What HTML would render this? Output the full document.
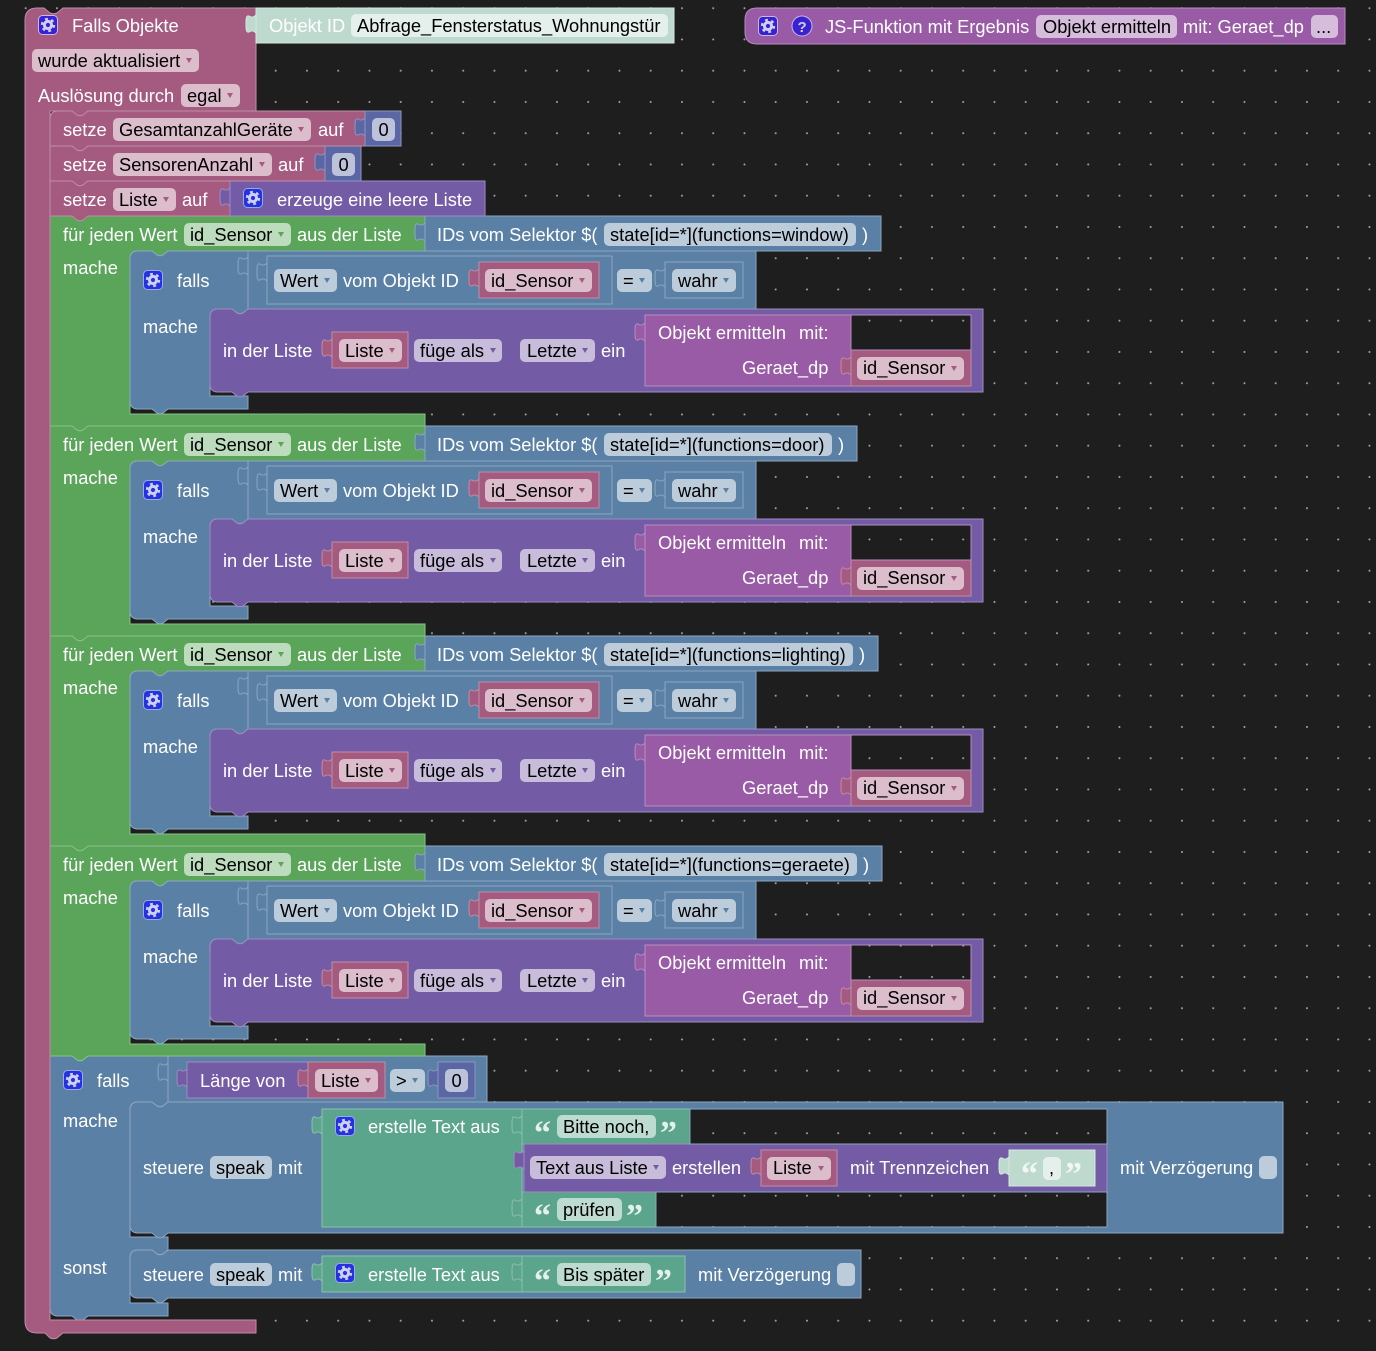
<!DOCTYPE html>
<html><head><meta charset="utf-8"><style>
html,body{margin:0;padding:0;background:#1e1e1e}
svg{display:block}
rect{shape-rendering:crispEdges}
rect[rx]{shape-rendering:auto}
text{font:18.3px "Liberation Sans",sans-serif;fill:#fff;white-space:pre}
text.k{fill:#000}
text.q{font:bold 34px "Liberation Serif",serif}
.pk{fill:#a55b80;stroke:#c08ca6}.gr{fill:#5ba55b;stroke:#8cc08c}.bl{fill:#5b80a5;stroke:#8ca6c0}
.pu{fill:#745ba5;stroke:#9d8cc0}.nu{fill:#5b67a5;stroke:#8c95c0}.fn{fill:#995ba5;stroke:#b78cc0}
.te{fill:#5ba58c;stroke:#8cc0ae}.lt{fill:#bedacf;stroke:#d5e8e0}
.fpk{fill:#dbbdcc}.fgr{fill:#bddbbd}.fbl{fill:#bdccdb}.fpu{fill:#c7bddb}.fnu{fill:#bdc2db}.ffn{fill:#d6bddb}.fte{fill:#bddbd1}.flt{fill:#e5f0ec}
.apk{fill:#a55b80}.agr{fill:#5ba55b}.abl{fill:#5b80a5}.apu{fill:#745ba5}
.gb{fill:#2433e0;stroke:#9aa8e8}.gp{fill:#3b22d0;stroke:#c9b8e8}
.hole{fill:url(#bg);stroke-width:1}
</style></head><body>
<svg xmlns="http://www.w3.org/2000/svg" width="1376" height="1351" viewBox="0 0 1376 1351">
<defs>
<pattern id="bg" patternUnits="userSpaceOnUse" x="25.7" y="8.2" width="31.25" height="31.25"><rect x="-1" y="-1" width="33" height="33" fill="#1e1e1e"/><circle cx="0" cy="0" r="1" fill="#a8a8a8"/><circle cx="31.25" cy="0" r="1" fill="#a8a8a8"/><circle cx="0" cy="31.25" r="1" fill="#a8a8a8"/><circle cx="31.25" cy="31.25" r="1" fill="#a8a8a8"/></pattern>
<path id="t" d="M0 0C-2 2-4 3-7 1-10 0-10 4-10 9-10 14-10 18-7 17-4 15-2 16 0 18Z"/>
<path id="a" d="M0 0h6l-3 5z" stroke="none"/>
<g id="gear"><rect x=".5" y=".5" width="19" height="19" rx="4"/><circle cx="10" cy="10" r="3.6" fill="none" stroke="#d0d0f4" stroke-width="3"/><circle cx="10" cy="10" r="6" fill="none" stroke="#d0d0f4" stroke-width="2.4" stroke-dasharray="2.8 3.48"/></g>
<g id="loop">
<path class="gr" d="M50 216H425V251H168l-5 4q-3 1.5-6 0l-5-4H138Q130 251 130 259V414H425V426H88l-5 4q-3 1.5-6 0l-5-4H50Z"/>
<rect class="fgr" x="184" y="223" width="107" height="23" rx="5"/><use href="#a" class="agr" x="278" y="232"/>
<path class="bl" d="M138 251H152l5 4q3 1.5 6 0l5-4H756V309H248l-5 4q-3 1.5-6 0l-5-4H218Q210 309 210 317V396H248V409H168l-5 4q-3 1.5-6 0l-5-4H138Q130 409 130 401V259Q130 251 138 251Z"/>
<use href="#gear" class="gb" x="143" y="270"/>
<path d="M248 251V309" fill="none" stroke="#8ca6c0"/>
<use href="#t" class="bl" x="248" y="257"/>
<rect class="bl" x="267" y="256" width="345" height="48"/><use href="#t" class="bl" x="267" y="263"/>
<rect class="fbl" x="274" y="269" width="63" height="23" rx="5"/><use href="#a" class="abl" x="324" y="278"/>
<rect class="pk" x="479" y="262" width="120" height="36"/><use href="#t" class="pk" x="479" y="269"/>
<rect class="fpk" x="485" y="269" width="107" height="23" rx="5"/><use href="#a" class="apk" x="579" y="278"/>
<rect class="fbl" x="617" y="269" width="35" height="23" rx="5"/><use href="#a" class="abl" x="639" y="278"/>
<rect class="bl" x="665" y="262" width="78" height="36"/><use href="#t" class="bl" x="665" y="269"/>
<rect class="fbl" x="672" y="269" width="64" height="23" rx="5"/><use href="#a" class="abl" x="723" y="278"/>
<path class="pu" d="M210 317Q210 309 218 309H232l5 4q3 1.5 6 0l5-4H983V392H248l-5 4q-3 1.5-6 0l-5-4H218Q210 392 210 384Z"/>
<rect class="pk" x="332" y="332" width="76" height="36"/><use href="#t" class="pk" x="332" y="339"/>
<rect class="fpk" x="339" y="339" width="63" height="23" rx="5"/><use href="#a" class="apk" x="389" y="348"/>
<rect class="fpu" x="414" y="339" width="88" height="23" rx="5"/><use href="#a" class="apu" x="490" y="348"/>
<rect class="fpu" x="520" y="339" width="75" height="23" rx="5"/><use href="#a" class="apu" x="582" y="348"/>
<rect class="fn" x="645" y="315" width="326" height="71"/><use href="#t" class="fn" x="645" y="323"/>
<rect class="pk" x="851" y="350" width="120" height="36"/><use href="#t" class="pk" x="851" y="357"/>
<rect class="fpk" x="857" y="357" width="107" height="23" rx="5"/><use href="#a" class="apk" x="951" y="366"/>
</g>
</defs>
<rect width="1376" height="1351" fill="url(#bg)"/>
<g>

<!-- final falls -->
<path class="bl" d="M50 1056H487V1102H168l-5 4q-3 1.5-6 0l-5-4H138Q130 1102 130 1110V1237H168V1250l-5 4q-3 1.5-6 0l-5-4H138Q130 1250 130 1258V1303H168V1316H88l-5 4q-3 1.5-6 0l-5-4H58Q50 1316 50 1308Z"/>
<path d="M168 1056V1102" fill="none" stroke="#8ca6c0"/>
<use href="#t" class="bl" x="168" y="1063"/>
<use href="#gear" class="gb" x="63" y="1070"/>
<rect class="pu" x="187" y="1062" width="121" height="36"/><use href="#t" class="pu" x="187" y="1069"/>
<rect class="pk" x="308" y="1062" width="77" height="36"/><use href="#t" class="pk" x="308" y="1069"/>
<rect class="fpk" x="315" y="1069" width="63" height="23" rx="5"/><use href="#a" class="apk" x="365" y="1078"/>
<rect class="fbl" x="390" y="1069" width="35" height="23" rx="5"/><use href="#a" class="abl" x="412" y="1078"/>
<rect class="nu" x="438" y="1062" width="37" height="36"/><use href="#t" class="nu" x="438" y="1069"/>
<rect class="fnu" x="445" y="1069" width="23" height="23" rx="5"/>
<text x="97" y="1087">falls</text><text x="200" y="1087">Länge von</text><text class="k" x="321" y="1087">Liste</text><text class="k" x="396" y="1087">&gt;</text><text class="k" x="451.5" y="1087">0</text>
<text x="63" y="1127">mache</text><text x="63" y="1274">sonst</text>

<path class="bl" d="M130 1110Q130 1102 138 1102H152l5 4q3 1.5 6 0l5-4H1283V1233H168l-5 4q-3 1.5-6 0l-5-4H138Q130 1233 130 1225Z"/>
<rect class="fbl" x="210" y="1156" width="62" height="23" rx="5"/>
<text x="143" y="1174">steuere</text><text class="k" x="216" y="1174">speak</text><text x="278" y="1174">mit</text>
<rect class="te" x="322" y="1109" width="200" height="118"/><use href="#t" class="te" x="322" y="1116"/>
<use href="#gear" class="gb" x="335" y="1116"/>
<text x="368" y="1133">erstelle Text aus</text>
<rect class="te" x="522" y="1109" width="168" height="35"/><use href="#t" class="te" x="522" y="1116"/>
<rect class="fte" x="557" y="1115" width="99" height="23" rx="5"/>
<text class="q" x="534" y="1144" style="fill:#e4f0eb">“</text><text class="k" x="563" y="1133">Bitte noch,</text><text class="q" x="660" y="1144" style="fill:#e4f0eb">”</text>
<rect class="te" x="522" y="1192" width="134" height="35"/><use href="#t" class="te" x="522" y="1199"/>
<rect class="fte" x="557" y="1198" width="65" height="23" rx="5"/>
<text class="q" x="534" y="1227" style="fill:#e4f0eb">“</text><text class="k" x="563" y="1216">prüfen</text><text class="q" x="626" y="1227" style="fill:#e4f0eb">”</text>
<rect class="pu" x="524" y="1144" width="583" height="48"/><use href="#t" class="pu" x="524" y="1151"/>
<rect class="fpu" x="530" y="1156" width="136" height="23" rx="5"/><use href="#a" class="apu" x="653" y="1165"/>
<text class="k" x="536" y="1174">Text aus Liste</text><text x="672" y="1174">erstellen</text>
<rect class="pk" x="761" y="1150" width="76" height="36"/><use href="#t" class="pk" x="761" y="1157"/>
<rect class="fpk" x="767" y="1157" width="64" height="23" rx="5"/><use href="#a" class="apk" x="818" y="1166"/>
<text class="k" x="773" y="1174">Liste</text><text x="850" y="1174">mit Trennzeichen</text>
<rect class="lt" x="1009" y="1150" width="86" height="36"/><use href="#t" class="lt" x="1009" y="1157"/>
<rect class="flt" x="1043" y="1157" width="18" height="23" rx="5"/>
<text class="q" x="1021" y="1185" style="fill:#f0f7f4">“</text><text class="k" x="1049" y="1174">,</text><text class="q" x="1065" y="1185" style="fill:#f0f7f4">”</text>
<text x="1120" y="1174">mit Verzögerung</text><rect class="fbl" x="1259" y="1156" width="18" height="23" rx="5"/>

<path class="bl" d="M130 1258Q130 1250 138 1250H152l5 4q3 1.5 6 0l5-4H861V1298H168l-5 4q-3 1.5-6 0l-5-4H138Q130 1298 130 1290Z"/>
<rect class="fbl" x="210" y="1263" width="62" height="23" rx="5"/>
<text x="143" y="1281">steuere</text><text class="k" x="216" y="1281">speak</text><text x="278" y="1281">mit</text>
<rect class="te" x="322" y="1256" width="363" height="36"/><use href="#t" class="te" x="322" y="1263"/>
<use href="#gear" class="gb" x="335" y="1263"/>
<text x="368" y="1281">erstelle Text aus</text>
<path d="M522 1256V1292" stroke="#8cc0ae" fill="none"/><use href="#t" class="te" x="522" y="1263"/>
<rect class="fte" x="557" y="1263" width="94" height="23" rx="5"/>
<text class="q" x="534" y="1292" style="fill:#e4f0eb">“</text><text class="k" x="563" y="1281">Bis später</text><text class="q" x="655" y="1292" style="fill:#e4f0eb">”</text>
<text x="698" y="1281">mit Verzögerung</text><rect class="fbl" x="837" y="1263" width="18" height="23" rx="5"/>

<!-- loop 4 -->
<g transform="translate(0 630)"><use href="#loop"/>
<rect class="bl" x="425" y="216" width="457" height="35"/><use href="#t" class="bl" x="425" y="223"/>
<rect class="fbl" x="604" y="223" width="253" height="23" rx="5"/>
<text x="63" y="241">für jeden Wert</text><text class="k" x="190" y="241">id_Sensor</text><text x="297" y="241">aus der Liste</text><text x="437" y="241">IDs vom Selektor $(</text><text class="k" x="610" y="241">state[id=*](functions=geraete)</text><text x="863" y="241">)</text>
<text x="63" y="274">mache</text><text x="177" y="287">falls</text><text class="k" x="280" y="287">Wert</text><text x="343" y="287">vom Objekt ID</text><text class="k" x="491" y="287">id_Sensor</text><text class="k" x="623" y="287">=</text><text class="k" x="678" y="287">wahr</text>
<text x="143" y="333">mache</text><text x="223" y="357">in der Liste</text><text class="k" x="345" y="357">Liste</text><text class="k" x="420" y="357">füge als</text><text class="k" x="527" y="357">Letzte</text><text x="601" y="357">ein</text>
<text x="658" y="339">Objekt ermitteln</text><text x="799" y="339">mit:</text><text x="742" y="374">Geraet_dp</text><text class="k" x="863" y="374">id_Sensor</text></g>

<!-- loop 3 -->
<g transform="translate(0 420)"><use href="#loop"/>
<rect class="bl" x="425" y="216" width="453" height="35"/><use href="#t" class="bl" x="425" y="223"/>
<rect class="fbl" x="604" y="223" width="249" height="23" rx="5"/>
<text x="63" y="241">für jeden Wert</text><text class="k" x="190" y="241">id_Sensor</text><text x="297" y="241">aus der Liste</text><text x="437" y="241">IDs vom Selektor $(</text><text class="k" x="610" y="241">state[id=*](functions=lighting)</text><text x="859" y="241">)</text>
<text x="63" y="274">mache</text><text x="177" y="287">falls</text><text class="k" x="280" y="287">Wert</text><text x="343" y="287">vom Objekt ID</text><text class="k" x="491" y="287">id_Sensor</text><text class="k" x="623" y="287">=</text><text class="k" x="678" y="287">wahr</text>
<text x="143" y="333">mache</text><text x="223" y="357">in der Liste</text><text class="k" x="345" y="357">Liste</text><text class="k" x="420" y="357">füge als</text><text class="k" x="527" y="357">Letzte</text><text x="601" y="357">ein</text>
<text x="658" y="339">Objekt ermitteln</text><text x="799" y="339">mit:</text><text x="742" y="374">Geraet_dp</text><text class="k" x="863" y="374">id_Sensor</text></g>

<!-- loop 2 -->
<g transform="translate(0 210)"><use href="#loop"/>
<rect class="bl" x="425" y="216" width="432" height="35"/><use href="#t" class="bl" x="425" y="223"/>
<rect class="fbl" x="604" y="223" width="228" height="23" rx="5"/>
<text x="63" y="241">für jeden Wert</text><text class="k" x="190" y="241">id_Sensor</text><text x="297" y="241">aus der Liste</text><text x="437" y="241">IDs vom Selektor $(</text><text class="k" x="610" y="241">state[id=*](functions=door)</text><text x="838" y="241">)</text>
<text x="63" y="274">mache</text><text x="177" y="287">falls</text><text class="k" x="280" y="287">Wert</text><text x="343" y="287">vom Objekt ID</text><text class="k" x="491" y="287">id_Sensor</text><text class="k" x="623" y="287">=</text><text class="k" x="678" y="287">wahr</text>
<text x="143" y="333">mache</text><text x="223" y="357">in der Liste</text><text class="k" x="345" y="357">Liste</text><text class="k" x="420" y="357">füge als</text><text class="k" x="527" y="357">Letzte</text><text x="601" y="357">ein</text>
<text x="658" y="339">Objekt ermitteln</text><text x="799" y="339">mit:</text><text x="742" y="374">Geraet_dp</text><text class="k" x="863" y="374">id_Sensor</text></g>

<!-- loop 1 -->
<g><use href="#loop"/>
<rect class="bl" x="425" y="216" width="456" height="35"/><use href="#t" class="bl" x="425" y="223"/>
<rect class="fbl" x="604" y="223" width="252" height="23" rx="5"/>
<text x="63" y="241">für jeden Wert</text><text class="k" x="190" y="241">id_Sensor</text><text x="297" y="241">aus der Liste</text><text x="437" y="241">IDs vom Selektor $(</text><text class="k" x="610" y="241">state[id=*](functions=window)</text><text x="862" y="241">)</text>
<text x="63" y="274">mache</text><text x="177" y="287">falls</text><text class="k" x="280" y="287">Wert</text><text x="343" y="287">vom Objekt ID</text><text class="k" x="491" y="287">id_Sensor</text><text class="k" x="623" y="287">=</text><text class="k" x="678" y="287">wahr</text>
<text x="143" y="333">mache</text><text x="223" y="357">in der Liste</text><text class="k" x="345" y="357">Liste</text><text class="k" x="420" y="357">füge als</text><text class="k" x="527" y="357">Letzte</text><text x="601" y="357">ein</text>
<text x="658" y="339">Objekt ermitteln</text><text x="799" y="339">mit:</text><text x="742" y="374">Geraet_dp</text><text class="k" x="863" y="374">id_Sensor</text></g>

<!-- setze rows -->
<path class="pk" d="M50 181H230V216H88l-5 4q-3 1.5-6 0l-5-4H50Z"/>
<rect class="fpk" x="113" y="188" width="63" height="23" rx="5"/><use href="#a" class="apk" x="163" y="197"/>
<text x="63" y="206">setze</text><text class="k" x="119" y="206">Liste</text><text x="182" y="206">auf</text>
<rect class="pu" x="230" y="181" width="255" height="35"/><use href="#t" class="pu" x="230" y="188"/>
<use href="#gear" class="gb" x="243" y="188"/><text x="277" y="206">erzeuge eine leere Liste</text>

<path class="pk" d="M50 146H325V181H88l-5 4q-3 1.5-6 0l-5-4H50Z"/>
<rect class="fpk" x="113" y="153" width="159" height="23" rx="5"/><use href="#a" class="apk" x="259" y="162"/>
<text x="63" y="171">setze</text><text class="k" x="119" y="171">SensorenAnzahl</text><text x="278" y="171">auf</text>
<rect class="nu" x="325" y="146" width="36" height="35"/><use href="#t" class="nu" x="325" y="153"/>
<rect class="fnu" x="332" y="153" width="23" height="23" rx="5"/><text class="k" x="338.5" y="171">0</text>

<path class="pk" d="M50 119Q50 111 58 111H365V146H88l-5 4q-3 1.5-6 0l-5-4H50Z"/>
<rect class="fpk" x="113" y="118" width="198" height="23" rx="5"/><use href="#a" class="apk" x="298" y="127"/>
<text x="63" y="136">setze</text><text class="k" x="119" y="136">GesamtanzahlGeräte</text><text x="318" y="136">auf</text>
<rect class="nu" x="365" y="111" width="36" height="35"/><use href="#t" class="nu" x="365" y="118"/>
<rect class="fnu" x="372" y="118" width="23" height="23" rx="5"/><text class="k" x="378.5" y="136">0</text>

<!-- hat -->
<path class="pk" d="M25 20Q25 8 37 8H44l6 5q3.5 1.5 7 0l6-5H256V111H88l-5 4q-3 1.5-6 0l-5-4H50V1320H256V1333H63l-6 5q-3.5 1.5-7 0l-5-5H37Q25 1333 25 1321Z"/>
<use href="#gear" class="gp" x="38" y="15"/>
<text x="72" y="32">Falls Objekte</text>
<rect class="fpk" x="32" y="49" width="167" height="23" rx="5"/><use href="#a" class="apk" x="186" y="58"/>
<text class="k" x="38" y="67">wurde aktualisiert</text>
<text x="38" y="102">Auslösung durch</text>
<rect class="fpk" x="181" y="84" width="59" height="23" rx="5"/><use href="#a" class="apk" x="227" y="93"/>
<text class="k" x="187" y="102">egal</text>
<rect class="lt" x="256" y="8" width="418" height="35"/><use href="#t" class="lt" x="256" y="15"/>
<rect class="flt" x="351" y="14" width="317" height="23" rx="5"/>
<text x="269" y="32">Objekt ID</text><text class="k" x="357" y="32">Abfrage_Fensterstatus_Wohnungstür</text>

<!-- JS function -->
<path class="fn" d="M757 8H1345V44H757Q745 44 745 32V20Q745 8 757 8Z"/>
<use href="#gear" class="gp" x="758" y="16"/>
<circle cx="802" cy="26" r="10" fill="#3b22d0" stroke="#c9b8e8"/>
<text x="797.5" y="32" style="font:bold 15px 'Liberation Sans',sans-serif;fill:#d0d0f4">?</text>
<text x="825" y="33">JS-Funktion mit Ergebnis</text>
<rect class="ffn" x="1036" y="15" width="141" height="23" rx="5"/>
<text class="k" x="1043" y="33">Objekt ermitteln</text><text x="1183" y="33">mit: Geraet_dp</text>
<rect class="ffn" x="1311" y="15" width="27" height="23" rx="5"/><text class="k" x="1316" y="33">...</text>
</g>

<!-- transparent holes -->
<g stroke="#b78cc0"><rect class="hole" x="851" y="315" width="120" height="35"/><rect class="hole" x="851" y="525" width="120" height="35"/><rect class="hole" x="851" y="735" width="120" height="35"/><rect class="hole" x="851" y="945" width="120" height="35"/></g>
<g stroke="#8ca6c0"><rect class="hole" x="690" y="1109" width="417" height="35"/><rect class="hole" x="656" y="1192" width="451" height="35"/></g>
</svg>
</body></html>
